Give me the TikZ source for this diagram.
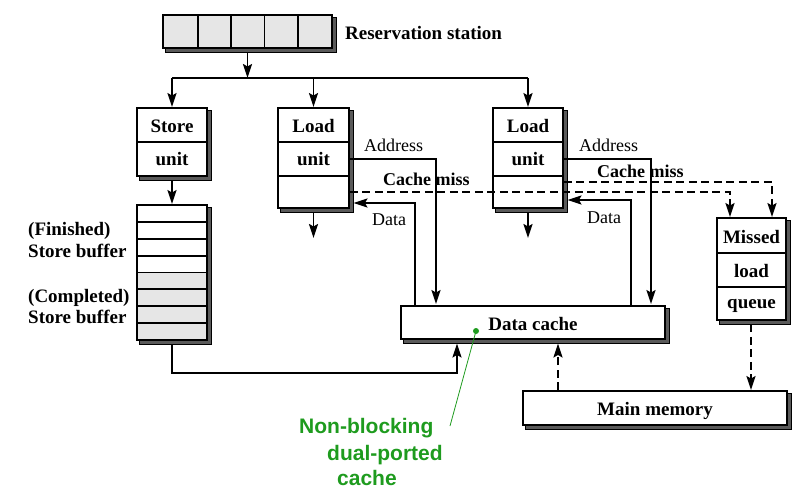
\documentclass[tikz,border=0pt]{standalone}
\usepackage{fontspec}
\setmainfont{Liberation Serif}
\newfontfamily\annotfont{Liberation Sans}
\usetikzlibrary{arrows.meta,backgrounds}
\definecolor{cellgray}{HTML}{E6E6E6}
\definecolor{shadowgray}{HTML}{5A5A5A}
\definecolor{annotgreen}{HTML}{1E9B1E}
\begin{document}
\begin{tikzpicture}[x=1pt,y=-1pt,
  box/.style={draw=black, line width=1.9pt, fill=white, inner sep=0pt},
  shadowbox/.style={draw=black, line width=0.9pt, fill=shadowgray},
  lbl/.style={font=\fontsize{19}{21}\selectfont\bfseries, inner sep=0pt},
  plain/.style={font=\fontsize{18}{20}\selectfont, inner sep=0pt},
  divline/.style={line width=1.9pt},
  wire/.style={line width=1.9pt},
  arr/.style={line width=1.9pt, -{Stealth[length=14pt,width=9pt,inset=2.5pt]}},
  dsh/.style={dash pattern=on 8pt off 4.5pt},
  annot/.style={font=\annotfont\fontsize{21}{24}\selectfont\bfseries, text=annotgreen, inner sep=0pt, anchor=base west}
]
\useasboundingbox (0,0) rectangle (806,499);

% Reservation station
\node[box, minimum width=169, minimum height=33,
  path picture={\fill[cellgray] (path picture bounding box.south west) rectangle (path picture bounding box.north east);}] (rs) at (247.5,31.5) {};
\foreach \x in {198,231,264.5,298} \draw[divline] (\x,15) -- (\x,48);
\node[lbl, anchor=base west] (rslbl) at (345,39) {Reservation station};

% Store unit
\node[box, minimum width=70, minimum height=68] (st) at (172,142) {};
\draw[divline] (st.west) -- (st.east);
\node[lbl, anchor=base] (stA) at (172,132) {Store};
\node[lbl, anchor=base] (stB) at (172,165) {unit};

% Store buffer
\node[box, minimum width=70, minimum height=135,
  path picture={\fill[cellgray] (path picture bounding box.west) rectangle (path picture bounding box.south east);}] (sb) at (172,272.5) {};
\foreach \i in {1,...,7} \draw[divline] (137,205+\i*16.875) -- (207,205+\i*16.875);
\node[lbl, anchor=base west] (sbA) at (28,235) {(Finished)};
\node[lbl, anchor=base west] (sbB) at (28,257) {Store buffer};
\node[lbl, anchor=base west] (sbC) at (28,302) {(Completed)};
\node[lbl, anchor=base west] (sbD) at (28,323) {Store buffer};

% Load units
\node[box, minimum width=71, minimum height=100] (l1) at (313.5,158) {};
\draw[divline] (l1.west |- 0,142) -- (l1.east |- 0,142);
\draw[divline] (l1.west |- 0,176) -- (l1.east |- 0,176);
\node[lbl, anchor=base] (l1A) at (313.5,132) {Load};
\node[lbl, anchor=base] (l1B) at (313.5,165) {unit};

\node[box, minimum width=70, minimum height=100] (l2) at (528,158) {};
\draw[divline] (l2.west |- 0,142) -- (l2.east |- 0,142);
\draw[divline] (l2.west |- 0,176) -- (l2.east |- 0,176);
\node[lbl, anchor=base] (l2A) at (528,132) {Load};
\node[lbl, anchor=base] (l2B) at (528,165) {unit};

% Data cache
\node[box, minimum width=264, minimum height=33] (dc) at (533,322.5) {};
\node[lbl, anchor=base] (dcl) at (533,330) {Data cache};

% Missed load queue
\node[box, minimum width=69, minimum height=102] (mq) at (751.5,269) {};
\draw[divline] (mq.west |- 0,253) -- (mq.east |- 0,253);
\draw[divline] (mq.west |- 0,287) -- (mq.east |- 0,287);
\node[lbl, anchor=base] (mqA) at (751.5,243) {Missed};
\node[lbl, anchor=base] (mqB) at (751.5,277) {load};
\node[lbl, anchor=base] (mqC) at (751.5,308) {queue};

% Main memory
\node[box, minimum width=264, minimum height=34] (mm) at (655,408) {};
\node[lbl, anchor=base] (mml) at (655,415) {Main memory};

% Shadows behind the boxes
\begin{scope}[on background layer]
\foreach \n in {rs,st,sb,l1,l2,dc,mq,mm}
  \draw[shadowbox] ([xshift=3.5pt,yshift=-3.5pt]\n.south west) rectangle ([xshift=3.5pt,yshift=-3.5pt]\n.north east);
\end{scope}

% Bus from reservation station
\coordinate (bus) at (247.5,78);
\draw[arr] ([yshift=-3.5pt]rs.south) -- (bus);
\draw[wire] (st.north |- bus) -- (l2.north |- bus);
\draw[arr] (st.north |- bus) -- (st.north);
\draw[arr] (l1.north |- bus) -- (l1.north);
\draw[arr] (l2.north |- bus) -- (l2.north);

% Store unit -> store buffer
\draw[arr] ([yshift=-3.5pt]st.south) -- (sb.north);

% Load unit outputs
\coordinate (o1) at (313.5,238);
\coordinate (o2) at (528,238);
\draw[arr] ([yshift=-3.5pt]l1.south) -- (o1);
\draw[arr] ([yshift=-3.5pt]l2.south) -- (o2);

% Address lines
\draw[arr] (l1.east |- 0,159) -| ([yshift=1pt]dc.north -| 436,0);
\draw[arr] (l2.east |- 0,159) -| ([yshift=1pt]dc.north -| 651,0);
\node[plain, anchor=base west] (ad1) at (364,151) {Address};
\node[plain, anchor=base west] (ad2) at (579,151) {Address};

% Data lines
\draw[arr] (dc.north -| 415,0) |- ([xshift=3.5pt]l1.east |- 0,203);
\draw[arr] (dc.north -| 631,0) |- ([xshift=3.5pt]l2.east |- 0,200);
\node[plain, anchor=base west] (da1) at (372,225) {Data};
\node[plain, anchor=base west] (da2) at (587,223) {Data};

% Cache miss lines
\draw[arr, dsh] (l1.east |- 0,192) -| (mq.north -| 730,0);
\draw[arr, dsh] (l2.east |- 0,182) -| (mq.north -| 772,0);
\node[lbl, anchor=base west, font=\fontsize{18}{20}\selectfont\bfseries] (cm1) at (383,185) {Cache miss};
\node[lbl, anchor=base west, font=\fontsize{18}{20}\selectfont\bfseries] (cm2) at (597,177) {Cache miss};

% Missed queue -> main memory, main memory -> data cache
\draw[arr, dsh] ([yshift=-3.5pt]mq.south -| 751,0) -- (mm.north -| 751,0);
\draw[arr, dsh] (mm.north -| 558,0) -- ([yshift=-3.5pt]dc.south -| 558,0);

% Store buffer -> data cache
\coordinate (sbc) at (457,373);
\draw[arr] ([yshift=-3.5pt]sb.south) |- (sbc) -- ([yshift=-3.5pt]dc.south -| sbc);

% Annotation
\coordinate (dot) at (476,331);
\coordinate (tail) at (450,426);
\fill[annotgreen] (dot) circle (3);
\draw[annotgreen, line width=0.8pt] (dot) -- (tail);
\node[annot] (an1) at (299,433) {Non-blocking};
\node[annot] (an2) at (327,460) {dual-ported};
\node[annot] (an3) at (337,485) {cache};
\end{tikzpicture}
\end{document}
